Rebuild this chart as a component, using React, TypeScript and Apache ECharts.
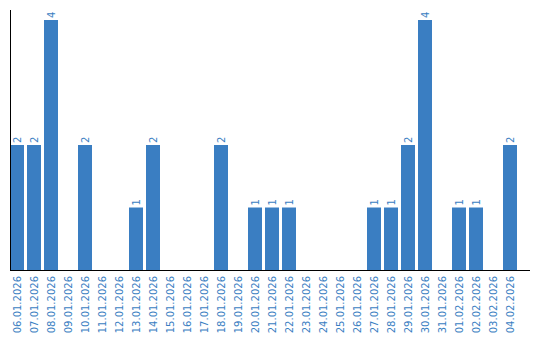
import React, { useEffect, useRef } from "react";
import * as echarts from "echarts";

const categories: string[] = [
  "06.01.2026", "07.01.2026", "08.01.2026", "09.01.2026", "10.01.2026",
  "11.01.2026", "12.01.2026", "13.01.2026", "14.01.2026", "15.01.2026",
  "16.01.2026", "17.01.2026", "18.01.2026", "19.01.2026", "20.01.2026",
  "21.01.2026", "22.01.2026", "23.01.2026", "24.01.2026", "25.01.2026",
  "26.01.2026", "27.01.2026", "28.01.2026", "29.01.2026", "30.01.2026",
  "31.01.2026", "01.02.2026", "02.02.2026", "03.02.2026", "04.02.2026",
];

const values: number[] = [
  2, 2, 4, 0, 2,
  0, 0, 1, 2, 0,
  0, 0, 2, 0, 1,
  1, 1, 0, 0, 0,
  0, 1, 1, 2, 4,
  0, 1, 1, 0, 2,
];

const BLUE = "#3a7ec2";
const FONT = "'DejaVu Sans', Verdana, sans-serif";

export default function App() {
  const ref = useRef<HTMLDivElement>(null);
  useEffect(() => {
    if (!ref.current) return;
    const chart = echarts.init(ref.current, null, { renderer: "svg" });
    chart.setOption({
      animation: false,
      grid: { left: 8.5, top: 20, width: 510, height: 250, containLabel: false },
      xAxis: {
        type: "category",
        data: categories,
        axisLine: { show: false },
        axisTick: { show: false },
        axisLabel: {
          interval: 0,
          rotate: 90,
          margin: 6,
          color: BLUE,
          fontSize: 10,
          fontFamily: FONT,
        },
      },
      yAxis: {
        type: "value",
        min: 0,
        max: 4,
        axisLine: { show: false },
        axisTick: { show: false },
        axisLabel: { show: false },
        splitLine: { show: false },
      },
      graphic: [
        {
          type: "line",
          shape: { x1: 10.5, y1: 10, x2: 10.5, y2: 270 },
          style: { stroke: "#000", lineWidth: 1 },
          z: 10,
        },
        {
          type: "line",
          shape: { x1: 10, y1: 270.5, x2: 530, y2: 270.5 },
          style: { stroke: "#000", lineWidth: 1 },
          z: 10,
        },
      ],
      series: [
        {
          type: "bar",
          data: values,
          barWidth: 14,
          itemStyle: { color: BLUE },
          label: {
            show: true,
            position: "top",
            rotate: 90,
            align: "left",
            verticalAlign: "middle",
            distance: 2,
            color: BLUE,
            fontSize: 10,
            fontFamily: FONT,
            formatter: (p: any) => (p.value ? String(p.value) : ""),
          },
        },
      ],
    });
    return () => chart.dispose();
  }, []);
  return <div ref={ref} style={{ width: 540, height: 340, position: "absolute", left: 0, top: 0 }} />;
}
